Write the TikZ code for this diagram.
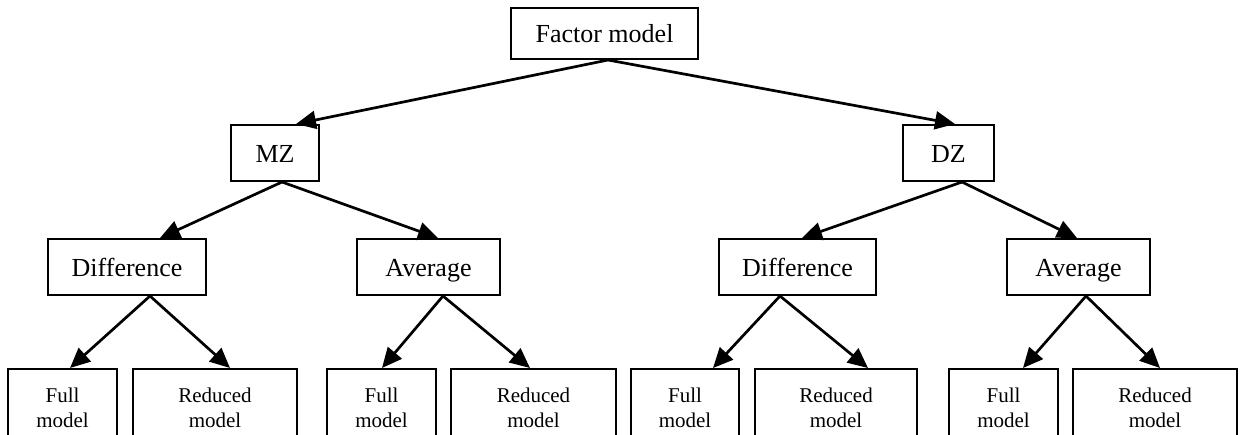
\documentclass[tikz,border=0pt]{standalone}
\usepackage{fontspec}
\setmainfont{Liberation Serif}
\usetikzlibrary{arrows.meta,calc}
\begin{document}
\begin{tikzpicture}[x=1pt,y=-1pt,
  box/.style={draw, line width=2pt, inner sep=0pt, minimum height=56pt,
    text height=21pt, text depth=3pt,
    font=\fontsize{26}{30}\selectfont},
  leaf/.style={draw, line width=2pt, inner sep=0pt, minimum height=78pt,
    align=center, font=\fontsize{21}{25}\selectfont},
  edge/.style={line width=2.7pt, -{Triangle[length=20pt,width=18pt]}}]
\useasboundingbox (0,0) rectangle (1240,434);
\clip (0,0) rectangle (1240,434);

% root and twin groups
\node[box, minimum width=187pt, minimum height=51pt] (factor) at (604.5,33.5) {Factor model};
\node[box, minimum width=88pt] (mz) at (275,153) {MZ};
\node[box, minimum width=91pt] (dz) at (948.5,153) {DZ};

% difference / average level
\node[box, minimum width=158pt] (diffL) at (127,267) {Difference};
\node[box, minimum width=143pt] (avgL) at (428.5,267) {Average};
\node[box, minimum width=157pt] (diffR) at (797.5,267) {Difference};
\node[box, minimum width=143pt] (avgR) at (1078.5,267) {Average};

% leaf models
\node[leaf, minimum width=109pt] (fullA) at (62.5,408) {Full\\model};
\node[leaf, minimum width=164pt] (redA) at (215,408) {Reduced\\model};
\node[leaf, minimum width=109pt] (fullB) at (381.5,408) {Full\\model};
\node[leaf, minimum width=165pt] (redB) at (533.5,408) {Reduced\\model};
\node[leaf, minimum width=108pt] (fullC) at (685,408) {Full\\model};
\node[leaf, minimum width=162pt] (redC) at (836,408) {Reduced\\model};
\node[leaf, minimum width=109pt] (fullD) at (1003.5,408) {Full\\model};
\node[leaf, minimum width=164pt] (redD) at (1155,408) {Reduced\\model};

% connectors
\draw[edge] ($(factor.south)+(3.5,0)$) -- ($(mz.north)+(21,0)$);
\draw[edge] ($(factor.south)+(3.5,0)$) -- ($(dz.north)+(6.5,0)$);

\draw[edge] ($(mz.south)+(7,0)$) -- ($(diffL.north)+(33,0)$);
\draw[edge] ($(mz.south)+(7,0)$) -- ($(avgL.north)+(9.5,0)$);
\draw[edge] ($(dz.south)+(13.5,0)$) -- ($(diffR.north)+(4.5,0)$);
\draw[edge] ($(dz.south)+(13.5,0)$) -- ($(avgR.north)+(-1.5,0)$);

\draw[edge] ($(diffL.south)+(23,0)$) -- ($(fullA.north)+(7.5,0)$);
\draw[edge] ($(diffL.south)+(23,0)$) -- ($(redA.north)+(15,0)$);
\draw[edge] ($(avgL.south)+(14.5,0)$) -- ($(fullB.north)+(0.5,0)$);
\draw[edge] ($(avgL.south)+(14.5,0)$) -- ($(redB.north)+(-3.5,0)$);
\draw[edge] ($(diffR.south)+(-17.5,0)$) -- ($(fullC.north)+(28,0)$);
\draw[edge] ($(diffR.south)+(-17.5,0)$) -- ($(redC.north)+(32,0)$);
\draw[edge] ($(avgR.south)+(7.5,0)$) -- ($(fullD.north)+(19.5,0)$);
\draw[edge] ($(avgR.south)+(7.5,0)$) -- ($(redD.north)+(5,0)$);
\end{tikzpicture}
\end{document}
